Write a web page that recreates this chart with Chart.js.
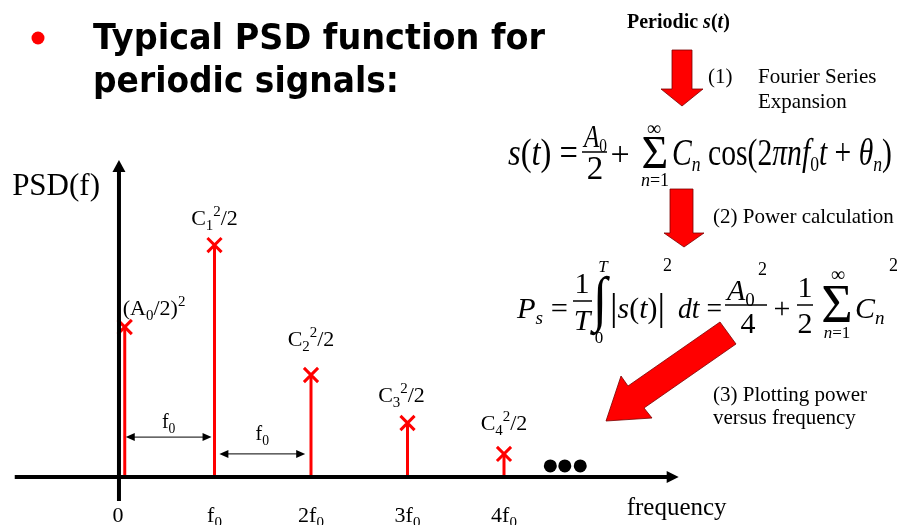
<!DOCTYPE html>
<html>
<head>
<meta charset="utf-8">
<script src="https://cdn.jsdelivr.net/npm/chart.js@4.4.1/dist/chart.umd.min.js"></script>
<style>
  html, body { margin: 0; padding: 0; background: #fff; }
  #wrap { position: relative; width: 899px; height: 525px; overflow: hidden; }
  #chartBox { position: absolute; left: 0; top: 0; width: 899px; height: 525px; }
  #slide { position: absolute; left: 0; top: 0; pointer-events: none; }
  .serif { font-family: 'Liberation Serif', 'DejaVu Serif', serif; }
  .it { font-style: italic; }
</style>
</head>
<body>
<div id="wrap">
  <div id="chartBox"><canvas id="psd"></canvas></div>

  <!-- slide text, formulas and the big red arrows -->
  <svg id="slide" width="899" height="525" class="serif">
    <circle cx="38" cy="38" r="6.5" fill="#ff0000"/>
    <text x="93" y="49" font-family="DejaVu Sans" font-weight="bold" font-size="35" textLength="452" lengthAdjust="spacingAndGlyphs">Typical PSD function for</text>
    <text x="93" y="92" font-family="DejaVu Sans" font-weight="bold" font-size="35" textLength="306" lengthAdjust="spacingAndGlyphs">periodic signals:</text>

    <text x="627" y="28" font-size="20" font-weight="bold">Periodic <tspan class="it">s</tspan>(<tspan class="it">t</tspan>)</text>
    <text x="708" y="83" font-size="21">(1)</text>
    <text x="758" y="83" font-size="21">Fourier Series</text>
    <text x="758" y="108" font-size="21">Expansion</text>
    <text x="713" y="223" font-size="21">(2) Power calculation</text>
    <text x="713" y="401" font-size="21">(3) Plotting power</text>
    <text x="713" y="424" font-size="21">versus frequency</text>

    <g fill="#ff0000" stroke="#7a0000" stroke-width="0.8">
      <polygon points="672,50 692,50 692,89 703,89 682,106 661,89 672,89"/>
      <polygon points="670,189 693,189 693,233 704,233 684,247 664,233 670,233"/>
      <polygon points="720,322 736,344 644,408 652,418 606,421 621,376 628,386"/>
    </g>

    <!-- s(t) = A0/2 + sum Cn cos(2 pi n f0 t + theta_n) -->
    <g font-size="37">
      <text x="508" y="165" textLength="70" lengthAdjust="spacingAndGlyphs"><tspan class="it">s</tspan>(<tspan class="it">t</tspan>) =</text>
      <text x="584" y="147" font-size="31" textLength="23" lengthAdjust="spacingAndGlyphs"><tspan class="it">A</tspan><tspan font-size="19" dy="5">0</tspan></text>
      <line x1="582" y1="152" x2="607" y2="152" stroke="#000" stroke-width="1.5"/>
      <text x="595" y="179" text-anchor="middle" font-size="33">2</text>
      <text x="620" y="165" text-anchor="middle" font-size="34">+</text>
      <text x="655" y="168" text-anchor="middle" font-size="46">Σ</text>
      <text x="654" y="135" text-anchor="middle" font-size="20">∞</text>
      <text x="655" y="186" text-anchor="middle" font-size="18"><tspan class="it">n</tspan>=1</text>
      <text x="672" y="165" textLength="220" lengthAdjust="spacingAndGlyphs"><tspan class="it">C</tspan><tspan class="it" font-size="22" dy="6">n</tspan><tspan dy="-6"> cos(2</tspan><tspan class="it">πnf</tspan><tspan font-size="22" dy="6">0</tspan><tspan class="it" dy="-6">t</tspan> + <tspan class="it">θ</tspan><tspan class="it" font-size="22" dy="6">n</tspan><tspan dy="-6">)</tspan></text>
    </g>

    <!-- Ps = 1/T int |s(t)|^2 dt = A0^2/4 + 1/2 sum Cn^2 -->
    <g font-size="30">
      <text x="517" y="318" textLength="51" lengthAdjust="spacingAndGlyphs"><tspan class="it">P</tspan><tspan class="it" font-size="19" dy="6">s</tspan><tspan dy="-6"> =</tspan></text>
      <text x="582" y="293" text-anchor="middle">1</text>
      <line x1="573" y1="301" x2="592" y2="301" stroke="#000" stroke-width="1.5"/>
      <text x="582" y="330" text-anchor="middle" class="it">T</text>
      <text transform="translate(600,319) scale(1.25,1.45)" text-anchor="middle" font-size="42">∫</text>
      <text x="603" y="272" text-anchor="middle" font-size="17" class="it">T</text>
      <text x="599" y="343" text-anchor="middle" font-size="17">0</text>
      <text x="610" y="318" textLength="55" lengthAdjust="spacingAndGlyphs"><tspan font-size="38" dy="2">|</tspan><tspan class="it" dy="-2">s</tspan>(<tspan class="it">t</tspan>)<tspan font-size="38" dy="2">|</tspan></text>
      <text x="663" y="271" font-size="18">2</text>
      <text x="678" y="318" textLength="44" lengthAdjust="spacingAndGlyphs"><tspan class="it">dt</tspan> =</text>
      <text x="727" y="300"><tspan class="it">A</tspan><tspan font-size="19" dy="6">0</tspan></text>
      <text x="758" y="275" font-size="18">2</text>
      <line x1="725" y1="305" x2="767" y2="305" stroke="#000" stroke-width="1.5"/>
      <text x="748" y="333" text-anchor="middle">4</text>
      <text x="782" y="318" text-anchor="middle">+</text>
      <text x="805" y="297" text-anchor="middle">1</text>
      <line x1="797" y1="305" x2="813" y2="305" stroke="#000" stroke-width="1.5"/>
      <text x="805" y="333" text-anchor="middle">2</text>
      <text x="837" y="322" text-anchor="middle" font-size="54">Σ</text>
      <text x="838" y="281" text-anchor="middle" font-size="20">∞</text>
      <text x="837" y="338" text-anchor="middle" font-size="17"><tspan class="it">n</tspan>=1</text>
      <text x="855" y="318"><tspan class="it">C</tspan><tspan class="it" font-size="19" dy="6">n</tspan></text>
      <text x="889" y="271" font-size="18">2</text>
    </g>
  </svg>
</div>

<script>
// PSD of a periodic signal - line spectrum at multiples of f0

// --- Data ---
const stemFreq = [0.07, 1, 2, 3, 4];          // in units of f0
const stemPower = [5.0, 7.73, 3.4, 1.8, 0.77];
const stemLabels = ['(A_0/2)^2', 'C_1^2/2', 'C_2^2/2', 'C_3^2/2', 'C_4^2/2'];
const tickValues = [0, 1, 2, 3, 4];
const tickLabels = ['0', 'f_0', '2f_0', '3f_0', '4f_0'];
const moreFreq = [4.48, 4.63, 4.79];           // the "..." dots
const moreLevel = [0.37, 0.37, 0.37];
const spacingFrom = [0.07, 1.04];              // f0 spacing arrows
const spacingTo = [0.98, 1.95];
const spacingLevel = [1.33, 0.77];

// label placement (pixels, relative to the peak marker)
const labelDx = [-2, 0, 0, -6, 0];
const labelDy = [-12, -20, -29, -21, -24];
const labelAlign = ['left', 'center', 'center', 'center', 'center'];
const spacingLabelDy = [-9, -14];

const FONT = '"Liberation Serif", "DejaVu Serif", serif';

// --- Helpers ---

// draws "f_0", "C_1^2/2" ... with one-char sub/superscripts
function drawRich(ctx, str, x, y, size, align) {
    const parts = [];
    for (let i = 0; i < str.length; i++) {
        const c = str[i];
        if ((c === '_' || c === '^') && i + 1 < str.length) {
            parts.push({ t: str[i + 1], k: c });
            i++;
        } else {
            parts.push({ t: c, k: '' });
        }
    }
    const small = size * 0.68;
    let w = 0;
    parts.forEach(p => {
        ctx.font = `${p.k ? small : size}px ${FONT}`;
        p.w = ctx.measureText(p.t).width;
        w += p.w;
    });
    let cx = align === 'center' ? x - w / 2 : x;
    ctx.textAlign = 'left';
    ctx.textBaseline = 'alphabetic';
    parts.forEach(p => {
        ctx.font = `${p.k ? small : size}px ${FONT}`;
        const dy = p.k === '_' ? size * 0.24 : p.k === '^' ? -size * 0.42 : 0;
        ctx.fillText(p.t, cx, y + dy);
        cx += p.w;
    });
}

function arrowHead(ctx, x, y, dx, dy, len, half) {
    // tip at (x, y), pointing along (dx, dy)
    const nx = -dy, ny = dx;
    ctx.beginPath();
    ctx.moveTo(x, y);
    ctx.lineTo(x - dx * len + nx * half, y - dy * len + ny * half);
    ctx.lineTo(x - dx * len - nx * half, y - dy * len - ny * half);
    ctx.closePath();
    ctx.fill();
}

// --- Axes, labels and annotations ---

const psdDecor = {
    id: 'psdDecor',
    afterDatasetsDraw(chart) {
        const { ctx, scales: { x, y } } = chart;
        ctx.save();
        ctx.fillStyle = '#000';
        ctx.strokeStyle = '#000';

        // main axes with arrows
        const ax = x.getPixelForValue(0.01);
        const ay = y.getPixelForValue(0);
        const xEnd = x.getPixelForValue(5.81);
        const yEnd = y.getPixelForValue(10.57);
        ctx.lineWidth = 4;
        ctx.beginPath();
        ctx.moveTo(x.getPixelForValue(-1.07), ay);
        ctx.lineTo(xEnd - 8, ay);
        ctx.moveTo(ax, y.getPixelForValue(-0.8));
        ctx.lineTo(ax, yEnd + 8);
        ctx.stroke();
        arrowHead(ctx, xEnd, ay, 1, 0, 12, 6);
        arrowHead(ctx, ax, yEnd, 0, -1, 12, 6.5);

        // tick labels
        tickValues.forEach((v, i) => {
            drawRich(ctx, tickLabels[i], x.getPixelForValue(v), 522, 22, 'center');
        });

        // axis titles
        ctx.font = `31px ${FONT}`;
        ctx.textAlign = 'right';
        ctx.fillText('PSD(f)', ax - 19, 195);
        ctx.font = `25px ${FONT}`;
        ctx.textAlign = 'left';
        ctx.fillText('frequency', xEnd - 52, 515);

        // f0 spacing arrows
        ctx.lineWidth = 1;
        spacingFrom.forEach((f, i) => {
            const x1 = x.getPixelForValue(f) + 1;
            const x2 = x.getPixelForValue(spacingTo[i]) - 1;
            const py = y.getPixelForValue(spacingLevel[i]);
            ctx.beginPath();
            ctx.moveTo(x1 + 6, py);
            ctx.lineTo(x2 - 6, py);
            ctx.stroke();
            arrowHead(ctx, x1, py, -1, 0, 9, 4);
            arrowHead(ctx, x2, py, 1, 0, 9, 4);
            drawRich(ctx, 'f_0', (x1 + x2) / 2, py + spacingLabelDy[i], 20, 'center');
        });

        // peak labels
        stemFreq.forEach((f, i) => {
            const px = x.getPixelForValue(f) + labelDx[i];
            const py = y.getPixelForValue(stemPower[i]) + labelDy[i];
            drawRich(ctx, stemLabels[i], px, py, 22, labelAlign[i]);
        });
        ctx.restore();
    }
};

// --- Chart ---

const stemData = stemFreq.flatMap((f, i) => [
    { x: f, y: 0 }, { x: f, y: stemPower[i] }, { x: f, y: null }
]);
const peakData = stemFreq.map((f, i) => ({ x: f, y: stemPower[i] }));
const moreData = moreFreq.map((f, i) => ({ x: f, y: moreLevel[i] }));

new Chart(document.getElementById('psd'), {
    type: 'line',
    data: {
        datasets: [
            {
                label: 'PSD lines',
                data: stemData,
                borderColor: '#ff0000',
                borderWidth: 3,
                pointRadius: 0,
                spanGaps: false,
            },
            {
                label: 'peaks',
                type: 'scatter',
                data: peakData,
                pointStyle: 'crossRot',
                pointRadius: 10,
                borderColor: '#ff0000',
                borderWidth: 3,
            },
            {
                label: 'more harmonics',
                type: 'scatter',
                data: moreData,
                pointStyle: 'circle',
                pointRadius: 6.5,
                backgroundColor: '#000',
                borderWidth: 0,
            },
        ],
    },
    options: {
        responsive: true,
        maintainAspectRatio: false,
        animation: false,
        events: [],
        layout: { autoPadding: false, padding: { left: 21.5, right: 9, top: 117, bottom: 0 } },
        plugins: {
            legend: { display: false },
            tooltip: { enabled: false },
        },
        scales: {
            x: { type: 'linear', min: -1, max: 8, display: false },
            y: { type: 'linear', min: -1.6, max: 12, display: false },
        },
    },
    plugins: [psdDecor],
});
</script>
</body>
</html>
